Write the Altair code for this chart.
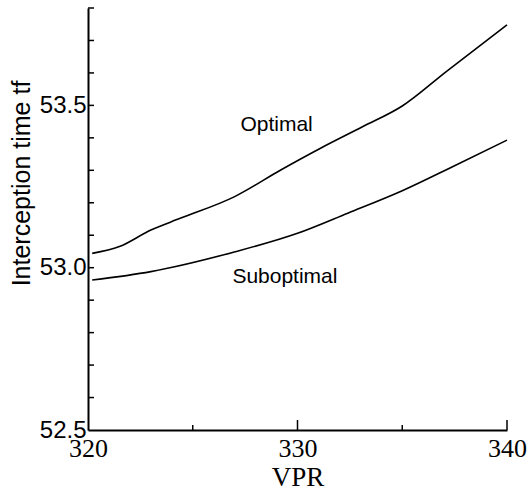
import altair as alt
import pandas as pd

# Data
opt_vpr = [320.2, 321.5, 323.0, 324.4, 327.0, 329.2, 331.1, 333.1, 335.0, 337.1, 340.0]
opt_t = [53.044, 53.065, 53.116, 53.152, 53.219, 53.301, 53.368, 53.434, 53.498, 53.604, 53.748]
sub_vpr = [320.2, 323.0, 326.9, 330.0, 332.4, 335.0, 337.4, 340.0]
sub_t = [52.962, 52.988, 53.047, 53.106, 53.168, 53.237, 53.311, 53.393]

label_text = ["Optimal", "Suboptimal"]
label_vpr = [329.0, 329.4]
label_t = [53.44, 52.97]

x_tick_labels = [320, 330, 340]
y_tick_labels = [52.5, 53.0, 53.5]
x_major_ticks = [330, 340]
x_minor_ticks = [325, 335]
y_ticks = [52.6, 52.7, 52.8, 52.9, 53.0, 53.1, 53.2, 53.3, 53.4, 53.5, 53.6, 53.7, 53.8]

W, H = 419, 422

lines_df = pd.DataFrame(
    {"VPR": opt_vpr + sub_vpr,
     "t": opt_t + sub_t,
     "series": ["Optimal"] * len(opt_vpr) + ["Suboptimal"] * len(sub_vpr)}
)
labels_df = pd.DataFrame({"VPR": label_vpr, "t": label_t, "text": label_text})

xscale = alt.Scale(domain=[320, 340], nice=False, zero=False)
yscale = alt.Scale(domain=[52.5, 53.8], nice=False, zero=False)

xaxis = alt.Axis(
    values=x_tick_labels, format="d", grid=False, tickSize=0, labelPadding=5,
    labelFlush=False,
    labelFont="Liberation Serif", labelFontSize=26, labelColor="black",
    domainColor="black", domainWidth=2,
    title="VPR", titleFont="Liberation Serif", titleFontSize=27,
    titleFontWeight="normal", titleColor="black", titlePadding=3,
)
yaxis = alt.Axis(
    values=y_tick_labels, format=".1f", grid=False, tickSize=0, labelPadding=2,
    labelFlush=False,
    labelFont="Liberation Sans", labelFontSize=24, labelColor="black",
    domainColor="black", domainWidth=2,
    title="Interception time tf", titleFont="Liberation Sans", titleFontSize=25,
    titleFontWeight="normal", titleColor="black",
    titleX=-67, titleY=175, titleAlign="center", titleBaseline="middle", titleAngle=270,
)

X = lambda f: alt.X(f"{f}:Q", scale=xscale, axis=xaxis, title="VPR")
Y = lambda f: alt.Y(f"{f}:Q", scale=yscale, axis=yaxis, title="Interception time tf")

lines = alt.Chart(lines_df).mark_line(color="black", strokeWidth=1.6, interpolate="monotone").encode(
    x=X("VPR"), y=Y("t"), detail="series:N",
)

labels = alt.Chart(labels_df).mark_text(
    font="Liberation Sans", fontSize=21, color="black", align="center", baseline="middle"
).encode(x=X("VPR"), y=Y("t"), text="text:N")

yt = alt.Chart(pd.DataFrame({"t": y_ticks})).mark_rule(color="black", strokeWidth=1.5).encode(
    y=Y("t"), x=alt.value(0), x2=alt.value(6),
)
xt_major = alt.Chart(pd.DataFrame({"VPR": x_major_ticks})).mark_rule(color="black", strokeWidth=1.5).encode(
    x=X("VPR"), y=alt.value(H), y2=alt.value(H - 10),
)
xt_minor = alt.Chart(pd.DataFrame({"VPR": x_minor_ticks})).mark_rule(color="black", strokeWidth=1.5).encode(
    x=X("VPR"), y=alt.value(H), y2=alt.value(H - 5),
)

chart = alt.layer(lines, labels, yt, xt_major, xt_minor).properties(
    width=W, height=H,
    autosize=alt.AutoSizeParams(type="none"),
    padding={"left": 88, "top": 8, "right": 23, "bottom": 63},
    background="white",
).configure_view(stroke=None)

chart.save("out.html", embed_options={"renderer": "svg", "actions": False})
